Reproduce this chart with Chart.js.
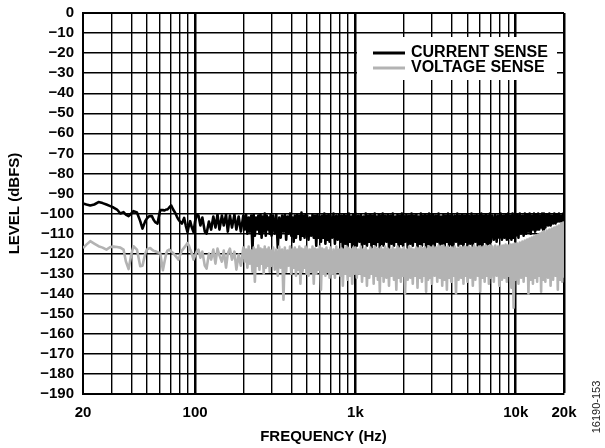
<!DOCTYPE html>
<html>
<head>
<meta charset="utf-8">
<script src="https://cdn.jsdelivr.net/npm/chart.js@4.4.0/dist/chart.umd.min.js"></script>
<style>
  html, body { margin: 0; padding: 0; background: #fff; }
  #wrap { width: 605px; height: 448px; }
</style>
</head>
<body>
<div id="wrap"><canvas id="chart" width="605" height="448"></canvas></div>
<script>
// Frequency points (Hz) shared by both traces
const freq = [
  // 20 Hz .. 103 Hz
  20, 21, 22.2, 23.5, 25, 26.5, 28, 29.6, 31, 32.6,
  34.2, 35.8, 37, 38.5, 40, 41.3, 43.4, 45.5, 47, 48.9,
  50, 51.3, 52.5, 53.8, 55, 56.4, 58.3, 60.6, 63, 64.5,
  66, 67.3, 69, 71, 73, 75.2, 77, 78.8, 80.5, 82.8,
  85.5, 87.5, 89.7, 91.5, 93.2, 95.5, 97.8, 100, 102.6,
  // 105 .. 193
  105, 108, 111, 115, 118, 122, 126, 130, 134, 138,
  142, 147, 151, 156, 160, 165, 170, 176, 181, 187, 193,
  // 200 .. 296
  200, 204, 208, 212, 216, 220, 224, 228, 232, 236, 240, 244, 248,
  252, 256, 260, 264, 268, 272, 276, 280, 284, 288, 292, 296,
  // 300 .. 496
  300, 307, 314, 321, 328, 335, 342, 349, 356, 363, 370, 377, 384, 391, 398,
  405, 412, 419, 426, 433, 440, 447, 454, 461, 468, 475, 482, 489, 496,
  // 500 .. 690
  500, 510, 520, 530, 540, 550, 560, 570, 580, 590,
  600, 610, 620, 630, 640, 650, 660, 670, 680, 690,
  // 700 .. 985
  700, 715, 730, 745, 760, 775, 790, 805, 820, 835,
  850, 865, 880, 895, 910, 925, 940, 955, 970, 985,
  // 1k .. 1.48k
  1000, 1020, 1040, 1060, 1080, 1100, 1120, 1140, 1160, 1180, 1200, 1220, 1240,
  1260, 1280, 1300, 1320, 1340, 1360, 1380, 1400, 1420, 1440, 1460, 1480,
  // 1.5k .. 1.98k
  1500, 1530, 1560, 1590, 1620, 1650, 1680, 1710, 1740, 1770,
  1800, 1830, 1860, 1890, 1920, 1950, 1980,
  // 2k .. 2.96k
  2000, 2040, 2080, 2120, 2160, 2200, 2240, 2280, 2320, 2360, 2400, 2440, 2480,
  2520, 2560, 2600, 2640, 2680, 2720, 2760, 2800, 2840, 2880, 2920, 2960,
  // 3k .. 3.96k
  3000, 3060, 3120, 3180, 3240, 3300, 3360, 3420, 3480, 3540,
  3600, 3660, 3720, 3780, 3840, 3900, 3960,
  // 4k .. 4.96k
  4000, 4080, 4160, 4240, 4320, 4400, 4480, 4560, 4640, 4720, 4800, 4880, 4960,
  // 5k .. 6.9k
  5000, 5100, 5200, 5300, 5400, 5500, 5600, 5700, 5800, 5900,
  6000, 6100, 6200, 6300, 6400, 6500, 6600, 6700, 6800, 6900,
  // 7k .. 9.85k
  7000, 7150, 7300, 7450, 7600, 7750, 7900, 8050, 8200, 8350,
  8500, 8650, 8800, 8950, 9100, 9250, 9400, 9550, 9700, 9850,
  // 10k .. 14.8k
  10000, 10200, 10400, 10600, 10800, 11000, 11200, 11400, 11600, 11800, 12000, 12200, 12400,
  12600, 12800, 13000, 13200, 13400, 13600, 13800, 14000, 14200, 14400, 14600, 14800,
  // 15k .. 20k
  15000, 15300, 15600, 15900, 16200, 16500, 16800, 17100, 17400,
  17700, 18000, 18300, 18600, 18900, 19200, 19500, 19800, 20000
];

// CURRENT SENSE level (dBFS)
const currentSense = [
  -95, -95.5, -96, -95.5, -94.3, -94.8, -95.5, -96.3, -97, -98,
  -100, -99.3, -100.5, -101.3, -100, -98.8, -99.5, -103.8, -107.5, -103.8,
  -102.5, -101.5, -101.3, -101.3, -103, -104.3, -105, -98.3, -98.3, -98.5,
  -98, -98, -97, -96, -98, -99.7, -101.5, -103, -104, -105,
  -102.2, -106, -109.3, -106, -103.8, -107, -109.3, -104, -100.5,
  -101, -106, -102, -109, -110, -104, -108, -101.5, -107, -100.5,
  -108, -101, -106, -100.5, -109, -101, -107, -100.5, -108, -101.5, -109,
  // 200 .. 296
  -101, -108, -100.5, -110, -102, -109, -101, -118.5, -100.5, -111, -102, -108, -101,
  -110, -100.5, -112, -101.5, -109, -100, -111, -101, -108, -102, -110, -100.5,
  // 300 .. 496
  -111, -101, -110, -100.5, -117, -102, -112, -101, -109, -100.5, -113, -101.5, -110, -100, -111,
  -102, -114, -101, -112, -100.5, -110, -101, -113, -99.5, -111, -101, -112, -100.5, -110,
  // 500 .. 690
  -101, -113, -102, -111, -100.5, -112, -101, -116, -100.5, -112,
  -101.5, -114, -101, -112, -100, -115, -101, -113, -100.5, -114,
  // 700 .. 985
  -101, -112, -100, -115, -101, -113, -100.5, -114, -101, -118,
  -100.5, -115, -101, -116, -100, -114, -101.5, -117, -100.5, -115,
  // 1k .. 1.48k
  -100, -116, -101, -114, -100.5, -117, -101.5, -115, -100, -116, -101, -114, -100.5,
  -117, -101, -115, -100, -116, -101.5, -114, -100.5, -117, -101, -115, -100,
  // 1.5k .. 1.98k
  -116, -101, -114, -100.5, -117, -101, -115, -100, -116, -101.5,
  -114, -100.5, -117, -101, -115, -100, -116,
  // 2k .. 2.96k
  -101, -114, -100.5, -117, -101, -115, -100, -116, -101, -114, -100.5, -117, -101.5,
  -115, -100, -116, -101, -114, -100.5, -117, -101, -115, -100, -116, -101,
  // 3k .. 3.96k
  -115, -100.5, -117, -101, -114, -100, -116, -101.5, -115, -100.5,
  -117, -101, -114, -100, -116, -101, -115,
  // 4k .. 4.96k
  -100.5, -117, -101, -114, -100, -116, -101, -115, -100.5, -117, -101, -114, -100.5,
  // 5k .. 6.9k
  -116, -101, -115, -100, -117, -101, -114, -100.5, -116, -101,
  -115, -100, -117, -101, -114, -100.5, -116, -101, -115, -100,
  // 7k .. 9.85k
  -114, -101, -113, -100.5, -114, -101, -112, -100, -113, -101,
  -112, -100.5, -113, -100, -112, -101, -113, -100, -112, -101,
  // 10k .. 14.8k
  -111, -100.5, -112, -100, -110, -101, -111, -100, -110, -100.5, -109, -100, -110,
  -101, -108, -100, -109, -100.5, -108, -100, -108, -101, -107, -100, -108,
  // 15k .. 20k
  -100, -107, -100.5, -106, -100, -106, -101, -105, -100,
  -105, -100.5, -104, -100, -104, -101, -104, -100, -103
];

// VOLTAGE SENSE level (dBFS)
const voltageSense = [
  -117.2, -115.5, -113.8, -115, -116.3, -117, -118, -116.7, -116.5, -116.7,
  -117, -118, -123.8, -127.7, -120.5, -116.3, -118, -126.3, -126, -120,
  -118, -117.5, -117.2, -118, -118.5, -118.8, -119.3, -119.7, -128.3, -124,
  -120, -118.5, -118, -119, -119.7, -121, -122, -123, -121, -118.5,
  -117, -116, -114.7, -116, -118, -120, -123, -121, -118.8,
  -118, -122, -119, -126, -127.5, -120, -123, -118, -125, -117.5,
  -121, -124, -118.5, -127, -120, -117.5, -123, -119, -128, -120.5, -126,
  // 200 .. 296
  -117, -124, -118, -127, -116.5, -125, -118.5, -129, -117, -134, -118, -126, -116,
  -128, -117.5, -125, -118, -130, -116.5, -127, -118, -126, -117, -129, -118.5,
  // 300 .. 496
  -126, -117, -128, -118, -131, -116.5, -127, -118, -143, -117, -129, -118.5, -126, -116.5, -130,
  -118, -127, -117, -131, -118, -128, -116.5, -135, -117.5, -129, -118, -127, -116.5, -130,
  // 500 .. 690
  -117.5, -131, -118, -129, -116.5, -135, -117.5, -130, -118, -128,
  -116.5, -138, -117.5, -130, -118, -131, -117, -129, -118.5, -132,
  // 700 .. 985
  -117, -130, -118, -132, -116.5, -129, -118, -131, -117.5, -136,
  -118, -130, -116.5, -133, -117.5, -131, -118, -135, -117, -130,
  // 1k .. 1.48k
  -117, -132, -118, -130, -116.5, -134, -118, -131, -117, -136, -118.5, -132, -117,
  -130, -118, -135, -116.5, -131, -117.5, -133, -118, -139, -117, -131, -118,
  // 1.5k .. 1.98k
  -134, -116.5, -132, -117.5, -136, -118, -131, -117, -133, -118,
  -138, -116.5, -132, -117.5, -134, -118, -131,
  // 2k .. 2.96k
  -117, -140, -118, -133, -116.5, -132, -117.5, -135, -118, -131, -117, -137, -117.5,
  -132, -116.5, -134, -117.5, -131, -117, -139, -118, -133, -116.5, -132, -117,
  // 3k .. 3.96k
  -135, -116.5, -131, -117, -134, -116, -132, -116.5, -136, -116,
  -133, -117, -138, -116.5, -132, -117.5, -134,
  // 4k .. 4.96k
  -117, -131, -116.5, -140, -117.5, -133, -116.5, -132, -117, -135, -116.5, -131, -117,
  // 5k .. 6.9k
  -134, -116.5, -132, -117, -136, -116, -133, -117, -131, -116.5,
  -139, -117, -132, -116.5, -134, -116, -131, -116.5, -135, -116,
  // 7k .. 9.85k
  -132, -116.5, -134, -116, -131, -116.5, -136, -116, -133, -116,
  -132, -115.5, -134, -116, -131, -115.5, -137, -115.5, -147, -115,
  // 10k .. 14.8k
  -133, -115, -135, -114.5, -132, -114, -134, -113.5, -131, -113, -140, -112.5, -133,
  -112, -135, -111.5, -132, -111, -134, -110.5, -131, -110, -139, -109.5, -133,
  // 15k .. 20k
  -109, -134, -108.5, -132, -108, -136, -107.5, -133, -107,
  -131, -106.5, -138, -106, -133, -105, -134, -104.5, -132
];

// Axis ticks
const xGridLines = [
  20, 30, 40, 50, 60, 70, 80, 90,
  100, 200, 300, 400, 500, 600, 700, 800, 900,
  1000, 2000, 3000, 4000, 5000, 6000, 7000, 8000, 9000,
  10000, 20000
];
const xLabelValues = [20, 100, 1000, 10000, 20000];
const xLabelText = ['20', '100', '1k', '10k', '20k'];
const xMajorLines = [100, 1000, 10000, 20000];

const FONT = '"Liberation Sans", Arial, Helvetica, sans-serif';

// Legend drawn inside the plot (white box over the grid)
const insideLegend = {
  id: 'insideLegend',
  afterDraw(chart) {
    const { ctx, chartArea } = chart;
    const boxX = chartArea.right - 207;
    const boxY = chartArea.top + 24;
    ctx.save();
    ctx.fillStyle = '#fff';
    ctx.fillRect(boxX, boxY, 200, 43);
    ctx.font = 'bold 16px ' + FONT;
    ctx.textBaseline = 'middle';
    ctx.textAlign = 'left';
    chart.data.datasets.forEach((ds, i) => {
      const y = boxY + 16 + i * 15;
      ctx.strokeStyle = ds.borderColor;
      ctx.lineWidth = 3;
      ctx.beginPath();
      ctx.moveTo(boxX + 16, y);
      ctx.lineTo(boxX + 48, y);
      ctx.stroke();
      ctx.fillStyle = '#000';
      ctx.fillText(ds.label, boxX + 54, y);
    });
    // figure number at right edge
    ctx.translate(597, 407);
    ctx.rotate(-Math.PI / 2);
    ctx.font = '11px ' + FONT;
    ctx.textAlign = 'center';
    ctx.fillStyle = '#222';
    ctx.fillText('16190-153', 0, 0);
    ctx.restore();
  }
};

const ctx = document.getElementById('chart').getContext('2d');
new Chart(ctx, {
  type: 'line',
  data: {
    datasets: [
      {
        label: 'CURRENT SENSE',
        data: freq.map((f, i) => ({ x: f, y: currentSense[i] })),
        borderColor: '#000000',
        borderWidth: 2.6,
        borderJoinStyle: 'round',
        pointRadius: 0,
        tension: 0,
        order: 1
      },
      {
        label: 'VOLTAGE SENSE',
        data: freq.map((f, i) => ({ x: f, y: voltageSense[i] })),
        borderColor: '#b3b3b3',
        borderWidth: 2.6,
        borderJoinStyle: 'round',
        pointRadius: 0,
        tension: 0,
        order: 0
      }
    ]
  },
  options: {
    responsive: false,
    animation: false,
    devicePixelRatio: 1,
    layout: { padding: { top: 13, right: 41, bottom: 0, left: 0 } },
    plugins: {
      legend: { display: false },
      tooltip: { enabled: false }
    },
    scales: {
      x: {
        type: 'logarithmic',
        min: 20,
        max: 20000,
        afterBuildTicks: s => { s.ticks = xGridLines.map(v => ({ value: v })); },
        afterFit: s => { s.height = 54; s.paddingLeft = 0; s.paddingRight = 0; },
        ticks: {
          autoSkip: false,
          maxRotation: 0,
          minRotation: 0,
          padding: 10,
          color: '#000',
          font: { family: FONT, size: 15, weight: 'bold' },
          callback: v => {
            const k = xLabelValues.indexOf(v);
            return k >= 0 ? xLabelText[k] : '';
          }
        },
        grid: {
          color: '#000',
          drawTicks: false,
          lineWidth: c => (c.tick && xMajorLines.includes(c.tick.value)) ? 2.5 : 1.4
        },
        border: { color: '#000', width: 2 },
        title: {
          display: true,
          text: 'FREQUENCY (Hz)',
          color: '#000',
          font: { family: FONT, size: 15, weight: 'bold' },
          padding: { top: 0, bottom: 2 }
        }
      },
      y: {
        min: -190,
        max: 0,
        afterFit: s => { s.width = 83; s.paddingTop = 0; s.paddingBottom = 0; },
        ticks: {
          stepSize: 10,
          autoSkip: false,
          padding: 9,
          color: '#000',
          font: { family: FONT, size: 15, weight: 'bold' },
          callback: v => v === 0 ? '0' : '\u2212' + Math.abs(v)
        },
        grid: {
          color: '#000',
          drawTicks: false,
          lineWidth: c => (c.tick && c.tick.value === 0) ? 2 : 1.4
        },
        border: { color: '#000', width: 2 },
        title: {
          display: true,
          text: 'LEVEL (dBFS)',
          color: '#000',
          font: { family: FONT, size: 15, weight: 'bold' },
          padding: { top: 6, bottom: 0 }
        }
      }
    }
  },
  plugins: [insideLegend]
});
</script>
</body>
</html>
